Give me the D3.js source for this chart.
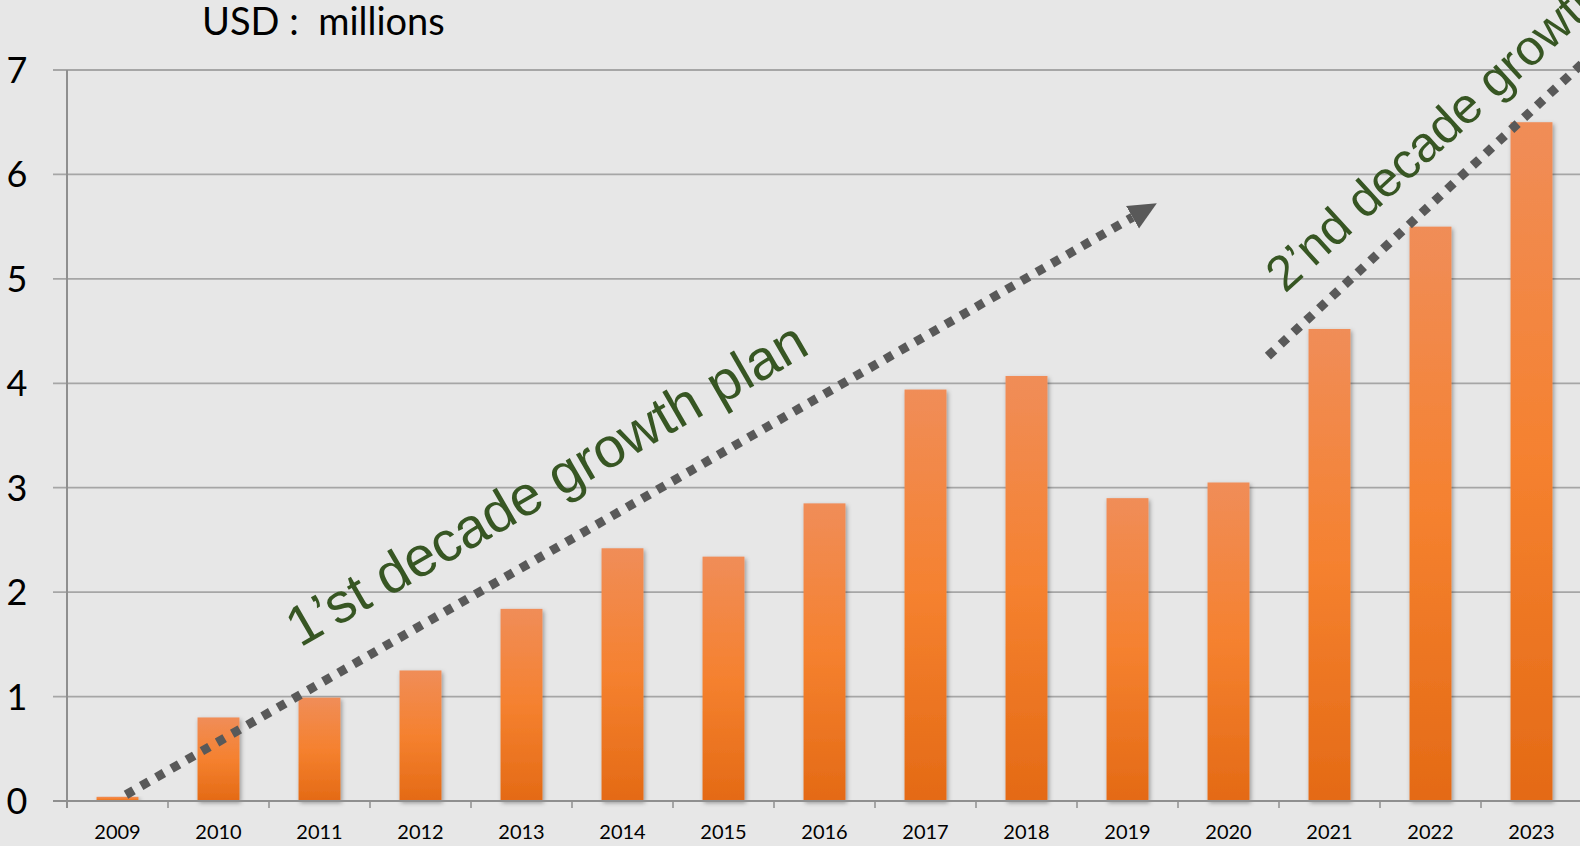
<!DOCTYPE html>
<html>
<head>
<meta charset="utf-8">
<script src="https://cdn.jsdelivr.net/npm/d3@7"></script>
<style>
  body{margin:0;background:#e7e7e7;}
  svg{display:block;}
</style>
</head>
<body>
<div id="chart"></div>
<script>
// chart data
const years=["2009","2010","2011","2012","2013","2014","2015","2016","2017","2018","2019","2020","2021","2022","2023"];
const revenue=[0.04,0.80,0.99,1.25,1.84,2.42,2.34,2.85,3.94,4.07,2.90,3.05,4.52,5.50,6.50];
const yTicks=[0,1,2,3,4,5,6,7];
const unitLabel="USD :  millions";

// annotations, in [band index, value]
const plan1Arrow=[[0.584,0.06],[10.55,5.59]];
const plan2Arrow=[[11.89,4.26],[15.6,7.6]];
const plan1Label="1\u2019st decade growth plan";
const plan2Label="2\u2019nd decade growth";

const w=1580;
const h=846;
const plotLeft=67, plotRight=1582, plotTop=70, plotBottom=801;

const svg=d3.select("#chart").append("svg").attr("width",w).attr("height",h);
svg.append("rect").attr("width",w).attr("height",h).attr("fill","#e7e7e7");

const defs=svg.append("defs");
const grad=defs.append("linearGradient").attr("id","barGrad")
  .attr("x1",0).attr("y1",0).attr("x2",0).attr("y2",1);
grad.append("stop").attr("offset","0%").attr("stop-color","#f08d58");
grad.append("stop").attr("offset","50%").attr("stop-color","#f5812f");
grad.append("stop").attr("offset","100%").attr("stop-color","#e46a15");

const shadow=defs.append("filter").attr("id","shadow")
  .attr("x","-30%").attr("y","-10%").attr("width","160%").attr("height","120%");
shadow.append("feDropShadow").attr("dx",1.5).attr("dy",2).attr("stdDeviation",2.2)
  .attr("flood-color","#000").attr("flood-opacity",0.35);

defs.append("marker").attr("id","head")
  .attr("markerUnits","userSpaceOnUse")
  .attr("viewBox","0 -14 30 28")
  .attr("refX",0).attr("refY",0)
  .attr("markerWidth",30).attr("markerHeight",28)
  .attr("orient","auto")
  .append("path").attr("d","M0,-13L28,0L0,13Z").attr("fill","#595959");

const x=d3.scaleBand().domain(years).range([plotLeft,plotRight]).paddingInner(0.585).paddingOuter(0.2925);
const xIdx=d3.scaleLinear().domain([0,years.length]).range([plotLeft,plotRight]);
const y=d3.scaleLinear().domain([0,7]).range([plotBottom,plotTop]);

// gridlines
svg.append("g").selectAll("line")
  .data(yTicks.filter(d=>d>0))
  .enter()
  .append("line")
  .attr("x1",53).attr("x2",w)
  .attr("y1",d=>y(d)).attr("y2",d=>y(d))
  .attr("stroke","#a6a6a6").attr("stroke-width",1.8);

// y labels
svg.append("g").selectAll("text")
  .data(yTicks)
  .enter()
  .append("text")
  .attr("x",17)
  .attr("y",d=>y(d))
  .attr("dy","0.36em")
  .attr("text-anchor","middle")
  .attr("font-family","Lato, 'Open Sans', sans-serif")
  .attr("font-size",36)
  .attr("fill","#000")
  .text(d=>d);

// bars
svg.append("g").selectAll("rect")
  .data(revenue)
  .enter()
  .append("rect")
  .attr("x",(d,i)=>x(years[i]))
  .attr("width",x.bandwidth())
  .attr("y",d=>y(d))
  .attr("height",d=>plotBottom-y(d))
  .attr("fill","url(#barGrad)")
  .attr("filter","url(#shadow)");

// axes
svg.append("line").attr("x1",plotLeft).attr("x2",plotLeft).attr("y1",plotTop).attr("y2",plotBottom+7)
  .attr("stroke","#8f8f8f").attr("stroke-width",2);
svg.append("line").attr("x1",53).attr("x2",w).attr("y1",plotBottom).attr("y2",plotBottom)
  .attr("stroke","#8f8f8f").attr("stroke-width",2);
svg.append("g").selectAll("line")
  .data(d3.range(1,years.length+1))
  .enter()
  .append("line")
  .attr("x1",d=>xIdx(d)).attr("x2",d=>xIdx(d))
  .attr("y1",plotBottom).attr("y2",plotBottom+7)
  .attr("stroke","#8f8f8f").attr("stroke-width",1.5);

svg.append("g").selectAll("text")
  .data(years)
  .enter()
  .append("text")
  .attr("x",d=>x(d)+x.bandwidth()/2)
  .attr("y",839)
  .attr("text-anchor","middle")
  .attr("font-family","Lato, 'Open Sans', sans-serif")
  .attr("font-size",20)
  .attr("fill","#000")
  .text(d=>d);

// unit label
svg.append("text")
  .attr("x",202).attr("y",35)
  .attr("font-family","Lato, 'Open Sans', sans-serif")
  .attr("font-size",38)
  .attr("fill","#000")
  .style("white-space","pre")
  .text(unitLabel);

// growth arrows
const line=d3.line().x(d=>xIdx(d[0])).y(d=>y(d[1]));
[plan1Arrow,plan2Arrow].forEach(a=>{
  svg.append("path")
    .attr("d",line(a))
    .attr("fill","none")
    .attr("stroke","#595959")
    .attr("stroke-width",9)
    .attr("stroke-dasharray","8.7 8.8")
    .attr("marker-end","url(#head)");
});

// growth labels
svg.append("text")
  .attr("transform","translate(300,648) rotate(-30)")
  .attr("font-family","'Liberation Sans', Arial, sans-serif")
  .attr("font-size",56)
  .attr("fill","#375623")
  .text(plan1Label);
svg.append("text")
  .attr("transform","translate(1285,294) rotate(-42.5)")
  .attr("font-family","'Liberation Sans', Arial, sans-serif")
  .attr("font-size",50)
  .attr("fill","#375623")
  .text(plan2Label);
</script>
</body>
</html>
